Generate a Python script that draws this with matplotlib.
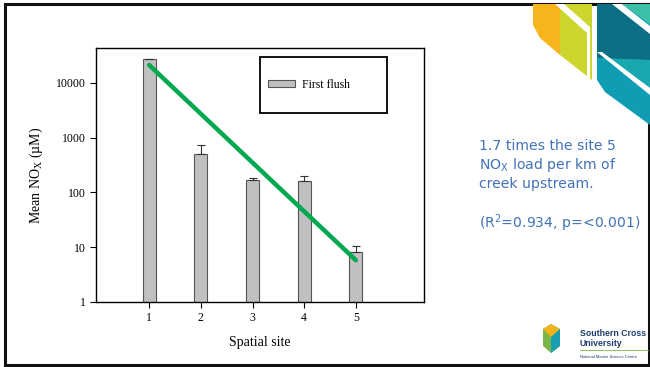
import matplotlib
matplotlib.use("Agg")
import matplotlib.pyplot as plt
from matplotlib.patches import Rectangle, Polygon
import numpy as np

# mean NOx per spatial site (first flush), with upper error
sites = [1, 2, 3, 4, 5]
mean_nox = [27000, 500, 170, 162, 8.0]
err_up = [600, 220, 10, 38, 2.6]
# regression line through the sites (log scale)
trend_x = [1, 5]
trend_y = [21000, 5.8]
yticks = [1, 10, 100, 1000, 10000]

plt.rcParams['font.family'] = 'Liberation Serif'
plt.rcParams['mathtext.default'] = 'regular'

fig = plt.figure(figsize=(6.5, 3.67), dpi=100)

# slide decorations in pixel coordinates
deco = fig.add_axes([0, 0, 1, 1], zorder=-1)
deco.set_xlim(0, 650)
deco.set_ylim(367, 0)
deco.axis('off')
deco.patch.set_alpha(0)

deco.add_patch(Rectangle((5, 3.5), 643.5, 361, fill=False, edgecolor='#111111', lw=2.2))

# top-right logo shapes
deco.add_patch(Polygon([(533, 4), (560, 4), (560, 55), (540, 38), (533, 25)], closed=True,
                       facecolor='#f7b51d', edgecolor='none'))
deco.add_patch(Polygon([(560, 4), (592, 4), (592, 80), (560, 55)], closed=True,
                       facecolor='#cdd52f', edgecolor='none'))
deco.add_patch(Polygon([(555, 4), (564, 4), (590, 27), (590, 80), (587, 78), (587, 33)],
                       closed=True, facecolor='white', edgecolor='none'))
deco.add_patch(Polygon([(597, 4), (650, 4), (650, 125), (605, 92), (597, 80)], closed=True,
                       facecolor='#0f9db3', edgecolor='none'))
deco.add_patch(Polygon([(597, 4), (622, 4), (650, 28), (650, 60), (597, 58)], closed=True,
                       facecolor='#0c6f86', edgecolor='none'))
deco.add_patch(Polygon([(597, 58), (650, 60), (650, 90), (610, 62)], closed=True,
                       facecolor='#1aa8b0', edgecolor='none'))
deco.add_patch(Polygon([(612, 4), (622, 4), (650, 26), (650, 34)], closed=True,
                       facecolor='white', edgecolor='none'))
deco.add_patch(Polygon([(597, 52), (602, 52), (650, 88), (650, 95)], closed=True,
                       facecolor='white', edgecolor='none'))
deco.add_patch(Polygon([(622, 4), (650, 4), (650, 24)], closed=True,
                       facecolor='#3cc0a8', edgecolor='none'))

# bottom-right university logo
deco.add_patch(Polygon([(543, 329), (551, 324), (560, 329), (560, 346), (551, 353), (543, 346)],
                       closed=True, facecolor='#7ab648', edgecolor='none'))
deco.add_patch(Polygon([(543, 329), (551, 324), (560, 329), (551, 337)], closed=True,
                       facecolor='#f2b41c', edgecolor='none'))
deco.add_patch(Polygon([(551, 337), (560, 329), (560, 346), (551, 353)], closed=True,
                       facecolor='#1a9fb0', edgecolor='none'))
deco.text(580, 333, 'Southern Cross', family='Liberation Sans', fontsize=6.3, weight='bold',
          color='#1f3c6e', va='center', ha='left')
deco.text(580, 343, 'University', family='Liberation Sans', fontsize=6.3, weight='bold',
          color='#1f3c6e', va='center', ha='left')
deco.plot([580, 648], [350, 350], color='#7ab648', lw=0.6)
deco.text(580, 357.5, 'National Marine Science Centre', family='Liberation Sans', fontsize=2.9,
          color='#1f3c6e', va='center', ha='left')

# annotation text on the right
blue = '#4272b8'
notes = ['1.7 times the site 5', 'NO$_X$ load per km of', 'creek upstream.', '',
         '(R$^2$=0.934, p=<0.001)']
for i, line in enumerate(notes):
    deco.text(479, 146 + i * 19.2, line, family='DejaVu Sans', fontsize=10.1, color=blue,
              va='center', ha='left')

ax = fig.add_axes([96 / 650, 1 - 302 / 367, 328 / 650, 254 / 367])
ax.bar(sites, mean_nox, width=0.25, color='#c0c0c0', edgecolor='#555555', linewidth=0.8,
       label='First flush', zorder=2)
ax.errorbar(sites, mean_nox, yerr=[np.zeros(len(err_up)), err_up], fmt='none',
            ecolor='#333333', elinewidth=0.8, capsize=3, capthick=0.8, zorder=3)
ax.plot(trend_x, trend_y, color='#00a94f', lw=3.2, solid_capstyle='round', zorder=4)

ax.set_yscale('log')
ax.set_ylim(1, 43000)
ax.set_xlim(-0.03, 6.32)
ax.set_yticks(yticks)
ax.set_yticklabels([str(v) for v in yticks])
ax.yaxis.set_minor_locator(matplotlib.ticker.NullLocator())
ax.set_xticks(sites)
ax.tick_params(direction='out', length=4, width=0.8, labelsize=8.5, pad=3)
for s in ax.spines.values():
    s.set_linewidth(1.0)
ax.set_xlabel('Spatial site', fontsize=10, labelpad=9)
ax.set_ylabel('Mean NO$_X$ (µM)', fontsize=10, labelpad=8)

# legend box
ax.add_patch(Rectangle((0.5, 0.744), 0.387, 0.2206, transform=ax.transAxes, fill=False,
                       edgecolor='black', lw=1.3, zorder=5))
ax.legend(frameon=False, loc='center left', bbox_to_anchor=(0.524, 0.854), borderpad=0,
          borderaxespad=0, handlelength=2.3, handleheight=0.55, handletextpad=0.6, fontsize=8.5)

fig.savefig('out.png', dpi=100)
